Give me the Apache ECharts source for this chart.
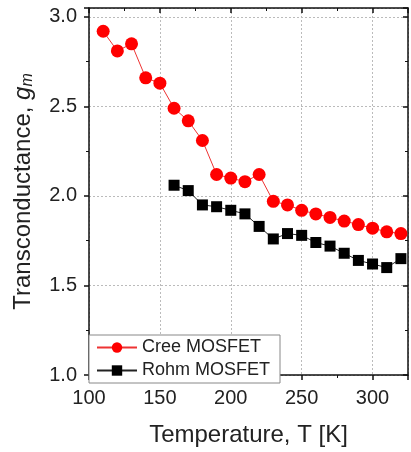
<!DOCTYPE html>
<html><head><meta charset="utf-8">
<script src="https://cdn.jsdelivr.net/npm/echarts@6/dist/echarts.min.js"></script>
<style>html,body{margin:0;padding:0;background:#fff}#c{width:411px;height:452px}</style>
</head><body><div id="c"></div>
<script>
const temps = [110,120,130,140,150,160,170,180,190,200,210,220,230,240,250,260,270,280,290,300,310,320];
const creeValues = [2.92,2.81,2.85,2.66,2.63,2.49,2.42,2.31,2.12,2.10,2.08,2.12,1.97,1.95,1.92,1.90,1.88,1.86,1.84,1.82,1.80,1.79];
const rohmTemps = [160,170,180,190,200,210,220,230,240,250,260,270,280,290,300,310,320];
const rohmValues = [2.06,2.03,1.95,1.94,1.92,1.90,1.83,1.76,1.79,1.78,1.74,1.72,1.68,1.64,1.62,1.60,1.65];
const xTicks = [100,150,200,250,300];
const yTicks = [1.0,1.5,2.0,2.5,3.0];

const font = 'Liberation Sans, Arial, sans-serif';
const chart = echarts.init(document.getElementById('c'), null, {renderer:'canvas'});
const axisLine = {show:true, lineStyle:{color:'#111', width:1.5}};
chart.setOption({
  animation:false,
  grid:{left:89, right:2, top:8, bottom:70},
  legend:{
    orient:'vertical', left:89, top:335, itemWidth:40, itemHeight:13, itemGap:4,
    padding:[3,10,3,7], borderColor:'#888', borderWidth:1, backgroundColor:'#fff',
    textStyle:{fontFamily:font, fontSize:18, color:'#222', lineHeight:19},
    data:['Cree MOSFET','Rohm MOSFET']
  },
  xAxis:[{
    type:'value', min:100, max:325, interval:50,
    axisLine:axisLine,
    axisTick:{show:true, length:5, inside:false, lineStyle:{color:'#111', width:1.5}},
    minorTick:{show:true, splitNumber:2, length:3, lineStyle:{color:'#111'}},
    axisLabel:{fontFamily:font, fontSize:20, color:'#222', margin:13,
      formatter:v=> xTicks.includes(v)? String(v):''},
    splitLine:{show:true, lineStyle:{color:'#bbb', type:[2,2], width:1}},
    name:'Temperature, T [K]', nameLocation:'middle', nameGap:48,
    nameTextStyle:{fontFamily:font, fontSize:24, color:'#222'}
  },{
    type:'value', position:'top', min:100, max:325, interval:50,
    axisLine:axisLine,
    axisTick:{show:true, length:5, inside:true, lineStyle:{color:'#111', width:1.5}},
    minorTick:{show:true, splitNumber:2, length:3, lineStyle:{color:'#111'}},
    axisLabel:{show:false}, splitLine:{show:false}
  }],
  yAxis:[{
    type:'value', min:1.0, max:3.05, interval:0.5,
    axisLine:axisLine,
    axisTick:{show:true, length:5, inside:false, lineStyle:{color:'#111', width:1.5}},
    minorTick:{show:true, splitNumber:2, length:3, lineStyle:{color:'#111'}},
    axisLabel:{fontFamily:font, fontSize:20, color:'#222', margin:12,
      formatter:v=> yTicks.some(t=>Math.abs(t-v)<1e-6)? v.toFixed(1):''},
    splitLine:{show:true, lineStyle:{color:'#bbb', type:[2,2], width:1}},
    name:'{a|Transconductance, }{i|g}{s|m}', nameLocation:'middle', nameGap:53,
    nameTextStyle:{
      rich:{
        a:{fontFamily:font, fontSize:24, color:'#222'},
        i:{fontFamily:font, fontSize:24, color:'#222', fontStyle:'italic'},
        s:{fontFamily:font, fontSize:16, color:'#222', fontStyle:'italic', verticalAlign:'bottom', padding:[9,0,0,0]}
      }
    }
  },{
    type:'value', position:'right', min:1.0, max:3.05, interval:0.5,
    axisLine:axisLine,
    axisTick:{show:true, length:5, inside:true, lineStyle:{color:'#111', width:1.5}},
    minorTick:{show:true, splitNumber:2, length:3, lineStyle:{color:'#111'}},
    axisLabel:{show:false}, splitLine:{show:false}
  }],
  series:[{
    name:'Cree MOSFET', type:'line', xAxisIndex:0, yAxisIndex:0,
    data: temps.map((t,i)=>[t, creeValues[i]]),
    symbol:'circle', symbolSize:13,
    itemStyle:{color:'#ff0000'}, lineStyle:{color:'#e33', width:1}
  },{
    name:'Rohm MOSFET', type:'line', xAxisIndex:0, yAxisIndex:0,
    data: rohmTemps.map((t,i)=>[t, rohmValues[i]]),
    symbol:'rect', symbolSize:11,
    itemStyle:{color:'#000'}, lineStyle:{color:'#222', width:1}
  }]
});
</script></body></html>
